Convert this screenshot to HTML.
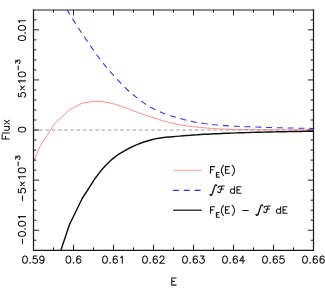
<!DOCTYPE html>
<html><head><meta charset="utf-8"><title>Flux</title>
<style>
html,body{margin:0;padding:0;background:#fff;}
body{width:325px;height:291px;overflow:hidden;font-family:"Liberation Sans",sans-serif;}
svg{display:block;}
.t{fill:none;stroke:#141414;stroke-width:1.05;stroke-linecap:round;stroke-linejoin:round;}
</style></head><body>
<svg width="325" height="291" viewBox="0 0 325 291">
<rect width="325" height="291" fill="#fff"/>
<defs><clipPath id="c"><rect x="33.5" y="9.8" width="280.0" height="240.5"/></clipPath></defs>

<path d="M33.2,130.05 H313.5" stroke="#9c9c9c" stroke-width="1.1" stroke-dasharray="3.45 2.766" fill="none"/>
<g clip-path="url(#c)" fill="none" stroke-linejoin="round">
<path d="M26.7,177.5 L40.4,145.7 L54.8,123.5 L69.4,109.9 L82.2,103.1 L95.6,101.2 L99.1,101.3 L102.6,101.6 L106.1,102.2 L109.6,102.9 L113.1,103.7 L116.6,104.7 L120.1,105.8 L123.6,107.1 L127.1,108.4 L130.6,109.7 L134.1,111.0 L137.6,112.3 L141.1,113.6 L144.6,114.9 L148.1,116.1 L151.6,117.2 L155.1,118.3 L158.6,119.4 L162.1,120.5 L165.6,121.5 L169.1,122.4 L172.6,123.3 L176.1,124.1 L179.6,124.7 L183.1,125.3 L186.6,125.8 L190.1,126.3 L193.6,126.7 L197.1,127.1 L200.6,127.5 L204.1,127.8 L207.6,128.1 L211.1,128.4 L214.6,128.6 L218.1,128.8 L221.6,129.0 L225.1,129.1 L228.6,129.2 L232.1,129.4 L235.6,129.5 L239.1,129.6 L242.6,129.6 L246.1,129.6 L249.6,129.7 L253.1,129.7 L256.6,129.7 L260.1,129.8 L263.6,129.8 L267.1,129.8 L270.6,129.8 L274.1,129.8 L277.6,129.8 L281.1,129.8 L284.6,129.9 L288.1,129.9 L291.6,129.9 L295.1,129.9 L298.6,129.9 L302.1,129.9 L305.6,129.9 L309.1,129.9 L312.6,129.9 L313.5,129.9" stroke="#ff8080" stroke-width="0.9"/>
<path d="M67.1,9.8 L69.4,13.8 L82.2,33.8 L95.6,53.4 L99.1,57.9 L102.6,62.5 L106.1,66.8 L109.6,71.0 L113.1,74.9 L116.6,78.7 L120.1,82.4 L123.6,86.1 L127.1,89.5 L130.6,92.6 L134.1,95.5 L137.6,98.3 L141.1,100.9 L144.6,103.4 L148.1,105.7 L151.6,107.7 L155.1,109.6 L158.6,111.3 L162.1,112.8 L165.6,114.1 L169.1,115.3 L172.6,116.4 L176.1,117.4 L179.6,118.4 L183.1,119.3 L186.6,120.3 L190.1,121.1 L193.6,121.9 L197.1,122.5 L200.6,123.0 L204.1,123.5 L207.6,123.9 L211.1,124.3 L214.6,124.7 L218.1,125.0 L221.6,125.3 L225.1,125.6 L228.6,125.9 L232.1,126.1 L235.6,126.3 L239.1,126.5 L242.6,126.6 L246.1,126.7 L249.6,126.8 L253.1,126.9 L256.6,127.0 L260.1,127.1 L263.6,127.2 L267.1,127.4 L270.6,127.5 L274.1,127.6 L277.6,127.7 L281.1,127.8 L284.6,127.9 L288.1,128.0 L291.6,128.0 L295.1,128.1 L298.6,128.2 L302.1,128.3 L305.6,128.3 L309.1,128.4 L312.6,128.5 L313.5,128.5" stroke="#3838ff" stroke-width="1.1" stroke-dasharray="6.0 4.8" stroke-dashoffset="0.5"/>
<path d="M54.5,269.4 L54.8,268.5 L69.4,224.8 L82.2,198.5 L95.6,177.7 L99.1,173.1 L102.6,168.8 L106.1,164.9 L109.6,161.5 L113.1,158.4 L116.6,155.7 L120.1,153.4 L123.6,151.3 L127.1,149.3 L130.6,147.5 L134.1,145.9 L137.6,144.4 L141.1,143.0 L144.6,141.8 L148.1,140.7 L151.6,139.7 L155.1,138.9 L158.6,138.3 L162.1,137.8 L165.6,137.3 L169.1,137.0 L172.6,136.7 L176.1,136.4 L179.6,136.1 L183.1,135.8 L186.6,135.5 L190.1,135.3 L193.6,135.0 L197.1,134.8 L200.6,134.5 L204.1,134.3 L207.6,134.2 L211.1,134.0 L214.6,133.8 L218.1,133.7 L221.6,133.5 L225.1,133.3 L228.6,133.2 L232.1,133.1 L235.6,132.9 L239.1,132.8 L242.6,132.7 L246.1,132.6 L249.6,132.5 L253.1,132.4 L256.6,132.3 L260.1,132.2 L263.6,132.1 L267.1,132.0 L270.6,132.0 L274.1,131.9 L277.6,131.8 L281.1,131.7 L284.6,131.7 L288.1,131.6 L291.6,131.5 L295.1,131.5 L298.6,131.4 L302.1,131.4 L305.6,131.3 L309.1,131.3 L312.6,131.2 L313.5,131.2" stroke="#111" stroke-width="1.45"/>
</g>
<path d="M33.5,9.40 V250.30 H313.5 V9.40" fill="none" stroke="#1a1a1a" stroke-width="1.25" stroke-linejoin="miter"/>
<path d="M32.90,9.95 H314.10" fill="none" stroke="#222" stroke-width="1.1"/>
<path d="M33.5,250.3 v-5.6 M33.5,9.8 v5.6 M53.5,250.3 v-2.9 M53.5,9.8 v2.9 M73.5,250.3 v-5.6 M73.5,9.8 v5.6 M93.5,250.3 v-2.9 M93.5,9.8 v2.9 M113.5,250.3 v-5.6 M113.5,9.8 v5.6 M133.5,250.3 v-2.9 M133.5,9.8 v2.9 M153.5,250.3 v-5.6 M153.5,9.8 v5.6 M173.5,250.3 v-2.9 M173.5,9.8 v2.9 M193.5,250.3 v-5.6 M193.5,9.8 v5.6 M213.5,250.3 v-2.9 M213.5,9.8 v2.9 M233.5,250.3 v-5.6 M233.5,9.8 v5.6 M253.5,250.3 v-2.9 M253.5,9.8 v2.9 M273.5,250.3 v-5.6 M273.5,9.8 v5.6 M293.5,250.3 v-2.9 M293.5,9.8 v2.9 M313.5,250.3 v-5.6 M313.5,9.8 v5.6 M33.5,240.27 h2.9 M313.5,240.27 h-2.9 M33.5,230.25 h5.6 M313.5,230.25 h-5.6 M33.5,220.23 h2.9 M313.5,220.23 h-2.9 M33.5,210.21 h2.9 M313.5,210.21 h-2.9 M33.5,200.19 h2.9 M313.5,200.19 h-2.9 M33.5,190.17 h2.9 M313.5,190.17 h-2.9 M33.5,180.15 h5.6 M313.5,180.15 h-5.6 M33.5,170.13 h2.9 M313.5,170.13 h-2.9 M33.5,160.11 h2.9 M313.5,160.11 h-2.9 M33.5,150.09 h2.9 M313.5,150.09 h-2.9 M33.5,140.07 h2.9 M313.5,140.07 h-2.9 M33.5,130.05 h5.6 M313.5,130.05 h-5.6 M33.5,120.03 h2.9 M313.5,120.03 h-2.9 M33.5,110.01 h2.9 M313.5,110.01 h-2.9 M33.5,99.99 h2.9 M313.5,99.99 h-2.9 M33.5,89.97 h2.9 M313.5,89.97 h-2.9 M33.5,79.95 h5.6 M313.5,79.95 h-5.6 M33.5,69.93 h2.9 M313.5,69.93 h-2.9 M33.5,59.91 h2.9 M313.5,59.91 h-2.9 M33.5,49.89 h2.9 M313.5,49.89 h-2.9 M33.5,39.87 h2.9 M313.5,39.87 h-2.9 M33.5,29.85 h5.6 M313.5,29.85 h-5.6 M33.5,19.83 h2.9 M313.5,19.83 h-2.9" stroke="#222" stroke-width="1" fill="none"/>
<path d="M173.2,170.3 H201.6" stroke="#ff9090" stroke-width="0.9"/>
<path d="M172.9,190.3 H201.6" stroke="#3030ff" stroke-width="1.15" stroke-dasharray="6.1 4.7"/>
<path d="M173.2,210.2 H201.6" stroke="#111" stroke-width="1.25"/>
<g transform="translate(0.00,0.00)"><path class="t" style="stroke-width:1.35" d="M210.1,194.5 c0.3,1.1 1.7,1.0 2.1,-0.5 L214.8,186.1 c0.4,-1.5 1.6,-1.6 1.9,-0.5"/><path class="t" style="stroke-width:1.05" d="M218.1,187.9 c-0.1,-1.0 0.5,-1.5 1.4,-1.55 L224.3,186.0 M222.0,186.3 L220.7,191.4 c-0.3,1.1 -1.3,1.5 -2.2,1.2 c-0.6,-0.2 -0.9,-0.8 -0.6,-1.4 M219.9,189.35 L223.5,189.1"/></g>
<g transform="translate(46.00,20.00)"><path class="t" style="stroke-width:1.35" d="M210.1,194.5 c0.3,1.1 1.7,1.0 2.1,-0.5 L214.8,186.1 c0.4,-1.5 1.6,-1.6 1.9,-0.5"/><path class="t" style="stroke-width:1.05" d="M218.1,187.9 c-0.1,-1.0 0.5,-1.5 1.4,-1.55 L224.3,186.0 M222.0,186.3 L220.7,191.4 c-0.3,1.1 -1.3,1.5 -2.2,1.2 c-0.6,-0.2 -0.9,-0.8 -0.6,-1.4 M219.9,189.35 L223.5,189.1"/></g>
<path class="t" d="M24.66,256.06 L23.64,256.40 L22.96,257.42 L22.62,259.12 L22.62,260.14 L22.96,261.84 L23.64,262.86 L24.66,263.20 L25.34,263.20 L26.36,262.86 L27.04,261.84 L27.38,260.14 L27.38,259.12 L27.04,257.42 L26.36,256.40 L25.34,256.06 L24.66,256.06 M30.10,262.52 L29.76,262.86 L30.10,263.20 L30.44,262.86 L30.10,262.52 M36.90,256.06 L33.50,256.06 L33.16,259.12 L33.50,258.78 L34.52,258.44 L35.54,258.44 L36.56,258.78 L37.24,259.46 L37.58,260.48 L37.58,261.16 L37.24,262.18 L36.56,262.86 L35.54,263.20 L34.52,263.20 L33.50,262.86 L33.16,262.52 L32.82,261.84 M44.04,258.44 L43.70,259.46 L43.02,260.14 L42.00,260.48 L41.66,260.48 L40.64,260.14 L39.96,259.46 L39.62,258.44 L39.62,258.10 L39.96,257.08 L40.64,256.40 L41.66,256.06 L42.00,256.06 L43.02,256.40 L43.70,257.08 L44.04,258.44 L44.04,260.14 L43.70,261.84 L43.02,262.86 L42.00,263.20 L41.32,263.20 L40.30,262.86 L39.96,262.18 M68.06,256.06 L67.04,256.40 L66.36,257.42 L66.02,259.12 L66.02,260.14 L66.36,261.84 L67.04,262.86 L68.06,263.20 L68.74,263.20 L69.76,262.86 L70.44,261.84 L70.78,260.14 L70.78,259.12 L70.44,257.42 L69.76,256.40 L68.74,256.06 L68.06,256.06 M73.50,262.52 L73.16,262.86 L73.50,263.20 L73.84,262.86 L73.50,262.52 M80.64,257.08 L80.30,256.40 L79.28,256.06 L78.60,256.06 L77.58,256.40 L76.90,257.42 L76.56,259.12 L76.56,260.82 L76.90,262.18 L77.58,262.86 L78.60,263.20 L78.94,263.20 L79.96,262.86 L80.64,262.18 L80.98,261.16 L80.98,260.82 L80.64,259.80 L79.96,259.12 L78.94,258.78 L78.60,258.78 L77.58,259.12 L76.90,259.80 L76.56,260.82 M104.66,256.06 L103.64,256.40 L102.96,257.42 L102.62,259.12 L102.62,260.14 L102.96,261.84 L103.64,262.86 L104.66,263.20 L105.34,263.20 L106.36,262.86 L107.04,261.84 L107.38,260.14 L107.38,259.12 L107.04,257.42 L106.36,256.40 L105.34,256.06 L104.66,256.06 M110.10,262.52 L109.76,262.86 L110.10,263.20 L110.44,262.86 L110.10,262.52 M117.24,257.08 L116.90,256.40 L115.88,256.06 L115.20,256.06 L114.18,256.40 L113.50,257.42 L113.16,259.12 L113.16,260.82 L113.50,262.18 L114.18,262.86 L115.20,263.20 L115.54,263.20 L116.56,262.86 L117.24,262.18 L117.58,261.16 L117.58,260.82 L117.24,259.80 L116.56,259.12 L115.54,258.78 L115.20,258.78 L114.18,259.12 L113.50,259.80 L113.16,260.82 M120.64,257.42 L121.32,257.08 L122.34,256.06 L122.34,263.20 M144.66,256.06 L143.64,256.40 L142.96,257.42 L142.62,259.12 L142.62,260.14 L142.96,261.84 L143.64,262.86 L144.66,263.20 L145.34,263.20 L146.36,262.86 L147.04,261.84 L147.38,260.14 L147.38,259.12 L147.04,257.42 L146.36,256.40 L145.34,256.06 L144.66,256.06 M150.10,262.52 L149.76,262.86 L150.10,263.20 L150.44,262.86 L150.10,262.52 M157.24,257.08 L156.90,256.40 L155.88,256.06 L155.20,256.06 L154.18,256.40 L153.50,257.42 L153.16,259.12 L153.16,260.82 L153.50,262.18 L154.18,262.86 L155.20,263.20 L155.54,263.20 L156.56,262.86 L157.24,262.18 L157.58,261.16 L157.58,260.82 L157.24,259.80 L156.56,259.12 L155.54,258.78 L155.20,258.78 L154.18,259.12 L153.50,259.80 L153.16,260.82 M159.96,257.76 L159.96,257.42 L160.30,256.74 L160.64,256.40 L161.32,256.06 L162.68,256.06 L163.36,256.40 L163.70,256.74 L164.04,257.42 L164.04,258.10 L163.70,258.78 L163.02,259.80 L159.62,263.20 L164.38,263.20 M184.66,256.06 L183.64,256.40 L182.96,257.42 L182.62,259.12 L182.62,260.14 L182.96,261.84 L183.64,262.86 L184.66,263.20 L185.34,263.20 L186.36,262.86 L187.04,261.84 L187.38,260.14 L187.38,259.12 L187.04,257.42 L186.36,256.40 L185.34,256.06 L184.66,256.06 M190.10,262.52 L189.76,262.86 L190.10,263.20 L190.44,262.86 L190.10,262.52 M197.24,257.08 L196.90,256.40 L195.88,256.06 L195.20,256.06 L194.18,256.40 L193.50,257.42 L193.16,259.12 L193.16,260.82 L193.50,262.18 L194.18,262.86 L195.20,263.20 L195.54,263.20 L196.56,262.86 L197.24,262.18 L197.58,261.16 L197.58,260.82 L197.24,259.80 L196.56,259.12 L195.54,258.78 L195.20,258.78 L194.18,259.12 L193.50,259.80 L193.16,260.82 M200.30,256.06 L204.04,256.06 L202.00,258.78 L203.02,258.78 L203.70,259.12 L204.04,259.46 L204.38,260.48 L204.38,261.16 L204.04,262.18 L203.36,262.86 L202.34,263.20 L201.32,263.20 L200.30,262.86 L199.96,262.52 L199.62,261.84 M224.66,256.06 L223.64,256.40 L222.96,257.42 L222.62,259.12 L222.62,260.14 L222.96,261.84 L223.64,262.86 L224.66,263.20 L225.34,263.20 L226.36,262.86 L227.04,261.84 L227.38,260.14 L227.38,259.12 L227.04,257.42 L226.36,256.40 L225.34,256.06 L224.66,256.06 M230.10,262.52 L229.76,262.86 L230.10,263.20 L230.44,262.86 L230.10,262.52 M237.24,257.08 L236.90,256.40 L235.88,256.06 L235.20,256.06 L234.18,256.40 L233.50,257.42 L233.16,259.12 L233.16,260.82 L233.50,262.18 L234.18,262.86 L235.20,263.20 L235.54,263.20 L236.56,262.86 L237.24,262.18 L237.58,261.16 L237.58,260.82 L237.24,259.80 L236.56,259.12 L235.54,258.78 L235.20,258.78 L234.18,259.12 L233.50,259.80 L233.16,260.82 M243.02,256.06 L239.62,260.82 L244.72,260.82 M243.02,256.06 L243.02,263.20 M264.66,256.06 L263.64,256.40 L262.96,257.42 L262.62,259.12 L262.62,260.14 L262.96,261.84 L263.64,262.86 L264.66,263.20 L265.34,263.20 L266.36,262.86 L267.04,261.84 L267.38,260.14 L267.38,259.12 L267.04,257.42 L266.36,256.40 L265.34,256.06 L264.66,256.06 M270.10,262.52 L269.76,262.86 L270.10,263.20 L270.44,262.86 L270.10,262.52 M277.24,257.08 L276.90,256.40 L275.88,256.06 L275.20,256.06 L274.18,256.40 L273.50,257.42 L273.16,259.12 L273.16,260.82 L273.50,262.18 L274.18,262.86 L275.20,263.20 L275.54,263.20 L276.56,262.86 L277.24,262.18 L277.58,261.16 L277.58,260.82 L277.24,259.80 L276.56,259.12 L275.54,258.78 L275.20,258.78 L274.18,259.12 L273.50,259.80 L273.16,260.82 M283.70,256.06 L280.30,256.06 L279.96,259.12 L280.30,258.78 L281.32,258.44 L282.34,258.44 L283.36,258.78 L284.04,259.46 L284.38,260.48 L284.38,261.16 L284.04,262.18 L283.36,262.86 L282.34,263.20 L281.32,263.20 L280.30,262.86 L279.96,262.52 L279.62,261.84 M304.66,256.06 L303.64,256.40 L302.96,257.42 L302.62,259.12 L302.62,260.14 L302.96,261.84 L303.64,262.86 L304.66,263.20 L305.34,263.20 L306.36,262.86 L307.04,261.84 L307.38,260.14 L307.38,259.12 L307.04,257.42 L306.36,256.40 L305.34,256.06 L304.66,256.06 M310.10,262.52 L309.76,262.86 L310.10,263.20 L310.44,262.86 L310.10,262.52 M317.24,257.08 L316.90,256.40 L315.88,256.06 L315.20,256.06 L314.18,256.40 L313.50,257.42 L313.16,259.12 L313.16,260.82 L313.50,262.18 L314.18,262.86 L315.20,263.20 L315.54,263.20 L316.56,262.86 L317.24,262.18 L317.58,261.16 L317.58,260.82 L317.24,259.80 L316.56,259.12 L315.54,258.78 L315.20,258.78 L314.18,259.12 L313.50,259.80 L313.16,260.82 M324.04,257.08 L323.70,256.40 L322.68,256.06 L322.00,256.06 L320.98,256.40 L320.30,257.42 L319.96,259.12 L319.96,260.82 L320.30,262.18 L320.98,262.86 L322.00,263.20 L322.34,263.20 L323.36,262.86 L324.04,262.18 L324.38,261.16 L324.38,260.82 L324.04,259.80 L323.36,259.12 L322.34,258.78 L322.00,258.78 L320.98,259.12 L320.30,259.80 L319.96,260.82 M171.73,277.96 L171.73,285.10 M171.73,277.96 L176.15,277.96 M171.73,281.36 L174.45,281.36 M171.73,285.10 L176.15,285.10 M18.36,38.44 L18.70,39.46 L19.72,40.14 L21.42,40.48 L22.44,40.48 L24.14,40.14 L25.16,39.46 L25.50,38.44 L25.50,37.76 L25.16,36.74 L24.14,36.06 L22.44,35.72 L21.42,35.72 L19.72,36.06 L18.70,36.74 L18.36,37.76 L18.36,38.44 M24.82,33.00 L25.16,33.34 L25.50,33.00 L25.16,32.66 L24.82,33.00 M18.36,28.24 L18.70,29.26 L19.72,29.94 L21.42,30.28 L22.44,30.28 L24.14,29.94 L25.16,29.26 L25.50,28.24 L25.50,27.56 L25.16,26.54 L24.14,25.86 L22.44,25.52 L21.42,25.52 L19.72,25.86 L18.70,26.54 L18.36,27.56 L18.36,28.24 M19.72,22.46 L19.38,21.78 L18.36,20.76 L25.50,20.76 M18.36,93.10 L18.36,96.50 L21.42,96.84 L21.08,96.50 L20.74,95.48 L20.74,94.46 L21.08,93.44 L21.76,92.76 L22.78,92.42 L23.46,92.42 L24.48,92.76 L25.16,93.44 L25.50,94.46 L25.50,95.48 L25.16,96.50 L24.82,96.84 L24.14,97.18 M24.31,89.87 L20.57,86.13 M24.31,86.13 L20.57,89.87 M19.72,82.56 L19.38,81.88 L18.36,80.86 L25.50,80.86 M18.36,74.74 L18.70,75.76 L19.72,76.44 L21.42,76.78 L22.44,76.78 L24.14,76.44 L25.16,75.76 L25.50,74.74 L25.50,74.06 L25.16,73.04 L24.14,72.36 L22.44,72.02 L21.42,72.02 L19.72,72.36 L18.70,73.04 L18.36,74.06 L18.36,74.74 M18.16,69.72 L18.16,65.86 M15.70,63.03 L15.70,60.21 L17.34,61.75 L17.34,60.98 L17.54,60.46 L17.75,60.21 L18.36,59.95 L18.77,59.95 L19.39,60.21 L19.80,60.72 L20.00,61.49 L20.00,62.26 L19.80,63.03 L19.59,63.29 L19.18,63.55 M18.36,129.94 L18.70,130.96 L19.72,131.64 L21.42,131.98 L22.44,131.98 L24.14,131.64 L25.16,130.96 L25.50,129.94 L25.50,129.26 L25.16,128.24 L24.14,127.56 L22.44,127.22 L21.42,127.22 L19.72,127.56 L18.70,128.24 L18.36,129.26 L18.36,129.94 M22.44,200.60 L22.44,195.84 M18.36,189.04 L18.36,192.44 L21.42,192.78 L21.08,192.44 L20.74,191.42 L20.74,190.40 L21.08,189.38 L21.76,188.70 L22.78,188.36 L23.46,188.36 L24.48,188.70 L25.16,189.38 L25.50,190.40 L25.50,191.42 L25.16,192.44 L24.82,192.78 L24.14,193.12 M24.31,185.81 L20.57,182.07 M24.31,182.07 L20.57,185.81 M19.72,178.50 L19.38,177.82 L18.36,176.80 L25.50,176.80 M18.36,170.68 L18.70,171.70 L19.72,172.38 L21.42,172.72 L22.44,172.72 L24.14,172.38 L25.16,171.70 L25.50,170.68 L25.50,170.00 L25.16,168.98 L24.14,168.30 L22.44,167.96 L21.42,167.96 L19.72,168.30 L18.70,168.98 L18.36,170.00 L18.36,170.68 M18.16,165.66 L18.16,161.80 M15.70,158.97 L15.70,156.15 L17.34,157.69 L17.34,156.92 L17.54,156.40 L17.75,156.15 L18.36,155.89 L18.77,155.89 L19.39,156.15 L19.80,156.66 L20.00,157.43 L20.00,158.20 L19.80,158.97 L19.59,159.23 L19.18,159.49 M22.44,243.80 L22.44,239.04 M18.36,234.28 L18.70,235.30 L19.72,235.98 L21.42,236.32 L22.44,236.32 L24.14,235.98 L25.16,235.30 L25.50,234.28 L25.50,233.60 L25.16,232.58 L24.14,231.90 L22.44,231.56 L21.42,231.56 L19.72,231.90 L18.70,232.58 L18.36,233.60 L18.36,234.28 M24.82,228.84 L25.16,229.18 L25.50,228.84 L25.16,228.50 L24.82,228.84 M18.36,224.08 L18.70,225.10 L19.72,225.78 L21.42,226.12 L22.44,226.12 L24.14,225.78 L25.16,225.10 L25.50,224.08 L25.50,223.40 L25.16,222.38 L24.14,221.70 L22.44,221.36 L21.42,221.36 L19.72,221.70 L18.70,222.38 L18.36,223.40 L18.36,224.08 M19.72,218.30 L19.38,217.62 L18.36,216.60 L25.50,216.60 M2.16,139.04 L9.30,139.04 M2.16,139.04 L2.16,134.62 M5.56,139.04 L5.56,136.32 M2.16,132.92 L9.30,132.92 M4.54,130.20 L7.94,130.20 L8.96,129.86 L9.30,129.18 L9.30,128.16 L8.96,127.48 L7.94,126.46 M4.54,126.46 L9.30,126.46 M4.54,124.08 L9.30,120.34 M4.54,120.34 L9.30,124.08 M210.56,166.61 L210.56,173.20 M210.56,166.61 L214.64,166.61 M210.56,169.75 L213.07,169.75 M216.38,172.48 L216.38,177.10 M216.38,172.48 L219.24,172.48 M216.38,174.68 L218.14,174.68 M216.38,177.10 L219.24,177.10 M223.60,165.35 L222.98,165.98 L222.35,166.92 L221.72,168.18 L221.41,169.75 L221.41,171.00 L221.72,172.57 L222.35,173.83 L222.98,174.77 L223.60,175.40 M225.41,166.61 L225.41,173.20 M225.41,166.61 L229.49,166.61 M225.41,169.75 L227.92,169.75 M225.41,173.20 L229.49,173.20 M232.19,165.35 L232.82,165.98 L233.45,166.92 L234.08,168.18 L234.39,169.75 L234.39,171.00 L234.08,172.57 L233.45,173.83 L232.82,174.77 L232.19,175.40 M234.60,186.71 L234.60,193.30 M234.60,189.85 L233.88,189.22 L233.16,188.90 L232.08,188.90 L231.36,189.22 L230.64,189.85 L230.28,190.79 L230.28,191.42 L230.64,192.36 L231.36,192.99 L232.08,193.30 L233.16,193.30 L233.88,192.99 L234.60,192.36 M236.96,186.71 L236.96,193.30 M236.96,186.71 L241.04,186.71 M236.96,189.85 L239.47,189.85 M236.96,193.30 L241.04,193.30 M210.56,206.71 L210.56,213.30 M210.56,206.71 L214.64,206.71 M210.56,209.85 L213.07,209.85 M216.38,212.58 L216.38,217.20 M216.38,212.58 L219.24,212.58 M216.38,214.78 L218.14,214.78 M216.38,217.20 L219.24,217.20 M223.60,205.45 L222.98,206.08 L222.35,207.02 L221.72,208.28 L221.41,209.85 L221.41,211.10 L221.72,212.67 L222.35,213.93 L222.98,214.87 L223.60,215.50 M225.41,206.71 L225.41,213.30 M225.41,206.71 L229.49,206.71 M225.41,209.85 L227.92,209.85 M225.41,213.30 L229.49,213.30 M232.19,205.45 L232.82,206.08 L233.45,207.02 L234.08,208.28 L234.39,209.85 L234.39,211.10 L234.08,212.67 L233.45,213.93 L232.82,214.87 L232.19,215.50 M242.61,210.47 L248.26,210.47 M280.60,206.71 L280.60,213.30 M280.60,209.85 L279.88,209.22 L279.16,208.90 L278.08,208.90 L277.36,209.22 L276.64,209.85 L276.28,210.79 L276.28,211.42 L276.64,212.36 L277.36,212.99 L278.08,213.30 L279.16,213.30 L279.88,212.99 L280.60,212.36 M282.96,206.71 L282.96,213.30 M282.96,206.71 L287.04,206.71 M282.96,209.85 L285.47,209.85 M282.96,213.30 L287.04,213.30"/>
</svg></body></html>
